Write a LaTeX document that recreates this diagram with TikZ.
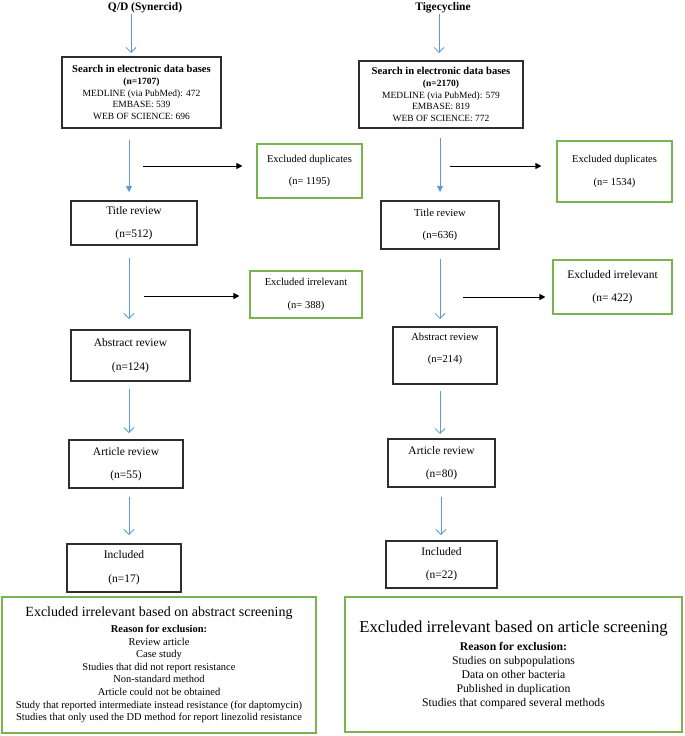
\documentclass[tikz,border=0pt]{standalone}
\usepackage{fontspec}
\setmainfont{Liberation Serif}
\usetikzlibrary{arrows.meta}
\definecolor{arrblue}{RGB}{91,155,213}
\definecolor{boxgreen}{RGB}{122,180,80}
\definecolor{boxgray}{RGB}{45,45,45}
\begin{document}
\begin{tikzpicture}[x=1pt,y=-1pt,
  blackbox/.style={draw=boxgray, line width=1.1pt, align=center, inner sep=0pt,
    font=\fontsize{11.5}{13}\selectfont},
  searchbox/.style={draw=boxgray, line width=1.5pt, align=center, inner sep=0pt,
    font=\fontsize{9.5}{11.8}\selectfont},
  greenbox/.style={draw=boxgreen, line width=1.1pt, align=center, inner sep=0pt,
    font=\fontsize{10.5}{12.6}\selectfont},
  headtext/.style={font=\bfseries\fontsize{11.5}{13}\selectfont, inner sep=0pt},
  plaintext/.style={align=center, inner sep=0pt},
  bluearr/.style={draw=arrblue, line width=0.8pt, -{Straight Barb[length=5pt,width=10pt]}},
  bluefill/.style={draw=arrblue, line width=0.8pt, -{Triangle[length=6pt,width=6pt]}},
  blackarr/.style={draw=black, line width=1pt, -{Triangle[length=6pt,width=6pt]}}
]
\useasboundingbox (0,0) rectangle (685,736);
\fill[white] (0,0) rectangle (685,736);

% headers
\node[headtext] (head1) at (145,8) {Q/D (Synercid)};
\node[headtext] (head2) at (443,8) {Tigecycline};

% left column
\node[searchbox, minimum width=159pt, minimum height=71pt] (search1) at (141.5,92.5)
  {{\bfseries\fontsize{10.6}{12}\selectfont Search in electronic data bases}\\
   {\bfseries (n=1707)}\\ MEDLINE (via PubMed): 472\\ EMBASE: 539\\ WEB OF SCIENCE: 696};
\node[greenbox, minimum width=105pt, minimum height=54pt] (dup1) at (309.5,171)
  {Excluded duplicates\\[9pt](n= 1195)};
\node[blackbox, minimum width=126pt, minimum height=44pt] (title1) at (134,223)
  {Title review\\[10pt](n=512)};
\node[greenbox, minimum width=112pt, minimum height=47pt] (irr1) at (306,294.5)
  {Excluded irrelevant\\[10pt](n= 388)};
\node[blackbox, minimum width=119pt, minimum height=51pt] (abs1) at (130.5,355.5)
  {Abstract review\\[11pt](n=124)};
\node[blackbox, minimum width=114pt, minimum height=48pt] (art1) at (126,464)
  {Article review\\[10pt](n=55)};
\node[blackbox, minimum width=114pt, minimum height=48pt] (inc1) at (124,568)
  {Included\\[11pt](n=17)};
\node[greenbox, minimum width=314pt, minimum height=136pt] (bot1) at (159,665)
  {{\fontsize{14}{16}\selectfont Excluded irrelevant based on abstract screening}\\[3pt]
   {\bfseries Reason for exclusion:}\\
   Review article\\ Case study\\ Studies that did not report resistance\\
   Non-standard method\\ Article could not be obtained\\
   Study that reported intermediate instead resistance (for daptomycin)\\
   Studies that only used the DD method for report linezolid resistance};

% right column
\node[searchbox, minimum width=164pt, minimum height=67pt] (search2) at (441,94.5)
  {{\bfseries\fontsize{10.6}{12}\selectfont Search in electronic data bases}\\
   {\bfseries (n=2170)}\\ MEDLINE (via PubMed): 579\\ EMBASE: 819\\ WEB OF SCIENCE: 772};
\node[greenbox, minimum width=115pt, minimum height=61pt] (dup2) at (614.5,171.5)
  {Excluded duplicates\\[10pt](n= 1534)};
\node[blackbox, minimum width=118pt, minimum height=48pt, font=\fontsize{10.7}{12.5}\selectfont] (title2) at (440,225)
  {Title review\\[10pt](n=636)};
\node[greenbox, minimum width=119pt, minimum height=54pt, font=\fontsize{11.5}{13}\selectfont] (irr2) at (612.5,287)
  {Excluded irrelevant\\[10pt](n= 422)};
\node[blackbox, minimum width=104pt, minimum height=57pt] (abs2) at (445,355.5) {};
\node[plaintext, font=\fontsize{10.6}{12.5}\selectfont] (abs2t) at (445,349)
  {Abstract review\\[9pt](n=214)};
\node[blackbox, minimum width=107pt, minimum height=48pt] (art2) at (441.5,463)
  {Article review\\[10pt](n=80)};
\node[blackbox, minimum width=111pt, minimum height=47pt] (inc2) at (441.5,564.5)
  {Included\\[10pt](n=22)};
\node[greenbox, minimum width=337pt, minimum height=135pt, font=\fontsize{11.7}{14}\selectfont] (bot2) at (513.5,664.5)
  {{\fontsize{16.7}{19}\selectfont Excluded irrelevant based on article screening}\\[4pt]
   {\bfseries Reason for exclusion:}\\
   Studies on subpopulations\\ Data on other bacteria\\
   Published in duplication\\ Studies that compared several methods};

% arrow end points
\coordinate (l0s) at (131,14);  \coordinate (l0e) at (131,53);
\coordinate (l1s) at (129,140); \coordinate (l1e) at (129,192);
\coordinate (l2s) at (129,258); \coordinate (l2e) at (129,319);
\coordinate (l3s) at (129,389); \coordinate (l3e) at (129,433);
\coordinate (l4s) at (129,497); \coordinate (l4e) at (129,535);
\coordinate (r0s) at (439,14);  \coordinate (r0e) at (439,53);
\coordinate (r1s) at (440,138); \coordinate (r1e) at (440,192);
\coordinate (r2s) at (440,259); \coordinate (r2e) at (440,319);
\coordinate (r3s) at (440,391); \coordinate (r3e) at (440,434);
\coordinate (r4s) at (441,497); \coordinate (r4e) at (441,535);
\coordinate (lb1) at (143,166); \coordinate (lb2) at (144,296);
\coordinate (rb1) at (450,166); \coordinate (rb2) at (463,297);

\draw[bluearr] (l0s) -- (l0e);
\draw[bluefill] (l1s) -- (l1e);
\draw[bluearr] (l2s) -- (l2e);
\draw[bluearr] (l3s) -- (l3e);
\draw[bluearr] (l4s) -- (l4e);
\draw[bluearr] (r0s) -- (r0e);
\draw[bluefill] (r1s) -- (r1e);
\draw[bluearr] (r2s) -- (r2e);
\draw[bluearr] (r3s) -- (r3e);
\draw[bluearr] (r4s) -- (r4e);

\draw[blackarr, shorten >=14pt] (lb1) -- (lb1 -| dup1.west);
\draw[blackarr, shorten >=10pt] (lb2) -- (lb2 -| irr1.west);
\draw[blackarr, shorten >=15pt] (rb1) -- (rb1 -| dup2.west);
\draw[blackarr, shorten >=7pt] (rb2) -- (rb2 -| irr2.west);
\end{tikzpicture}
\end{document}
